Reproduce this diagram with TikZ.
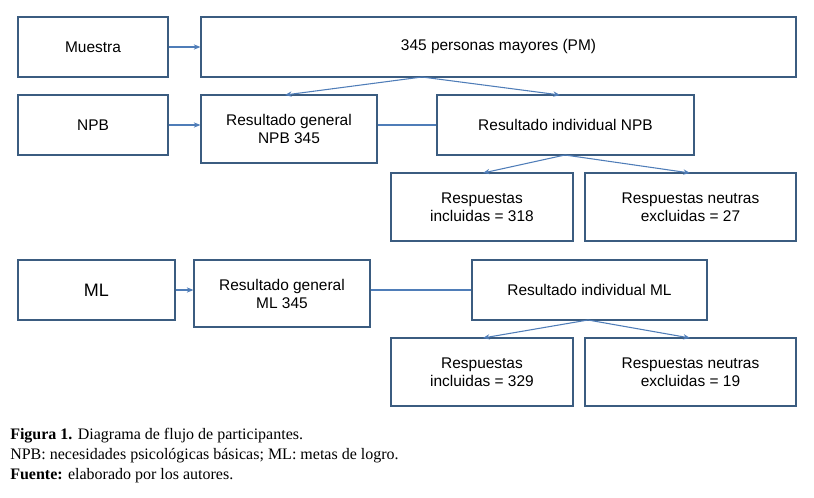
\documentclass[tikz,border=0pt]{standalone}
\usepackage{fontspec}
\setmainfont{Liberation Sans}
\newfontfamily\capfont{Liberation Serif}
\usetikzlibrary{arrows.meta}
\definecolor{bx}{HTML}{3B5C80}
\definecolor{ar}{HTML}{4F7DB8}
\begin{document}
\begin{tikzpicture}[x=0.75pt,y=-0.75pt,
 bx/.style={draw=bx,line width=0.9pt,inner sep=0pt,align=center,font=\fontsize{11.6}{13.5}\selectfont},
 ar/.style={draw=ar,line width=0.8pt,-{Stealth[length=5pt,width=4pt]}},
 ln/.style={draw=ar,line width=0.8pt}]
\useasboundingbox (0,0) rectangle (814,498);
\newcommand\bb[6]{\node[bx,minimum width={(#4-#2)*0.75pt},minimum height={(#5-#3)*0.75pt}] (#1) at ({(#2+#4)/2},{(#3+#5)/2}) {#6};}
\bb{m}{18}{17}{168}{77}{Muestra}
\bb{pm}{201}{17}{796}{77}{345 personas mayores (PM)}
\bb{npb}{18}{95}{168}{155}{NPB}
\bb{rg}{201}{95}{377}{163}{Resultado general\\NPB 345}
\bb{ri}{437}{95}{694}{155}{Resultado individual NPB}
\bb{a1}{391}{173}{573}{241}{Respuestas\\incluidas = 318}
\bb{b1}{585}{173}{796}{241}{Respuestas neutras\\excluidas = 27}
\bb{ml}{18}{260}{175}{320}{\fontsize{13.5}{15}\selectfont ML}
\bb{rgm}{194}{260}{370}{327}{Resultado general\\ML 345}
\bb{rim}{472}{260}{707}{320}{Resultado individual ML}
\bb{a2}{391}{338}{573}{406}{Respuestas\\incluidas = 329}
\bb{b2}{585}{338}{796}{406}{Respuestas neutras\\excluidas = 19}
\coordinate (s1) at (422,77);
\coordinate (s2) at (565,155);
\coordinate (s3) at (588,320);
\draw[ar] (m) -- (pm);
\draw[ar] (s1) -- (285,95);
\draw[ar] (s1) -- (560,95);
\draw[ar] (npb) -- (rg.west|-npb);
\draw[ln] (rg.east|-npb) -- (ri);
\draw[ar] (s2) -- (483,173);
\draw[ar] (s2) -- (690,173);
\draw[ar] (ml) -- (rgm.west|-ml);
\draw[ln] (rgm.east|-ml) -- (rim);
\draw[ar] (s3) -- (483,338);
\draw[ar] (s3) -- (690,338);
\node[anchor=north west,inner sep=0pt,align=left,font=\capfont\fontsize{12}{15}\selectfont] (cap) at (10,428)
 {\textbf{Figura 1.} Diagrama de flujo de participantes.\\
 NPB: necesidades psicológicas básicas; ML: metas de logro.\\
 \textbf{Fuente:} elaborado por los autores.};
\end{tikzpicture}
\end{document}
